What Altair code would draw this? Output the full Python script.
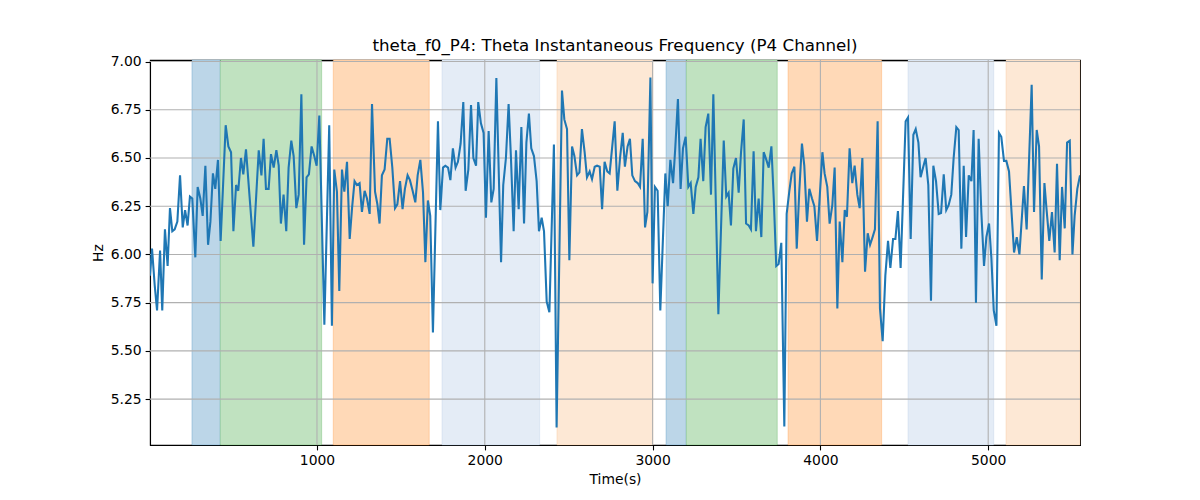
import altair as alt
import pandas as pd

# ---- data ----
times = [
    5, 17, 33, 47, 65, 78, 94, 110, 124, 138, 152, 168, 184, 200, 214, 229, 243, 257, 275, 289,
    305, 319, 335, 351, 365, 380, 394, 410, 426, 456, 472, 488, 502, 518, 531, 547, 561, 577, 621, 653,
    669, 682, 696, 712, 726, 742, 758, 772, 785, 801, 817, 831, 847, 861, 877, 891, 907, 923, 938, 952,
    968, 984, 998, 1014, 1044, 1073, 1089, 1103, 1119, 1133, 1149, 1163, 1179, 1195, 1209, 1224, 1238, 1254, 1268, 1284,
    1298, 1314, 1328, 1346, 1360, 1373, 1387, 1403, 1419, 1433, 1449, 1465, 1479, 1495, 1510, 1524, 1540, 1554, 1570, 1586,
    1600, 1616, 1632, 1646, 1661, 1675, 1691, 1721, 1735, 1751, 1765, 1781, 1795, 1810, 1826, 1840, 1856, 1872, 1886, 1902,
    1918, 1932, 1948, 1961, 1977, 1993, 2007, 2023, 2039, 2053, 2069, 2097, 2110, 2126, 2142, 2156, 2172, 2186, 2202, 2218,
    2234, 2248, 2263, 2277, 2293, 2309, 2323, 2339, 2353, 2369, 2385, 2412, 2428, 2460, 2474, 2490, 2504, 2520, 2534, 2550,
    2564, 2579, 2595, 2609, 2625, 2639, 2655, 2669, 2685, 2699, 2714, 2730, 2744, 2774, 2790, 2806, 2822, 2835, 2851, 2865,
    2879, 2895, 2911, 2925, 2941, 2955, 2969, 2987, 3000, 3014, 3030, 3046, 3076, 3090, 3106, 3122, 3135, 3151, 3167, 3181,
    3197, 3213, 3227, 3243, 3257, 3273, 3286, 3302, 3316, 3332, 3348, 3362, 3392, 3424, 3439, 3453, 3467, 3481, 3497, 3513,
    3527, 3543, 3557, 3573, 3586, 3602, 3616, 3632, 3648, 3662, 3678, 3692, 3708, 3722, 3737, 3751, 3767, 3785, 3799, 3815,
    3829, 3845, 3859, 3874, 3890, 3904, 3920, 3934, 3950, 3964, 3980, 4012, 4025, 4041, 4055, 4071, 4085, 4101, 4115, 4131,
    4145, 4158, 4174, 4190, 4204, 4220, 4234, 4250, 4266, 4282, 4296, 4311, 4325, 4341, 4355, 4371, 4387, 4403, 4417, 4433,
    4447, 4462, 4478, 4508, 4522, 4538, 4554, 4568, 4584, 4597, 4613, 4627, 4643, 4659, 4673, 4689, 4705, 4719, 4735, 4750,
    4764, 4780, 4794, 4810, 4824, 4840, 4854, 4868, 4884, 4900, 4913, 4927, 4943, 4959, 4975, 4989, 5005, 5019, 5033, 5049,
    5064, 5078, 5094, 5108, 5124, 5154, 5170, 5186, 5213, 5229, 5259, 5273, 5289, 5303, 5319, 5335, 5348, 5364, 5380, 5396,
    5410, 5426, 5440, 5456, 5470, 5486, 5502, 5515, 5531, 5547,
]
freqs = [
    5.89, 6.03, 5.84, 5.71, 6.02, 5.71, 6.13, 5.94, 6.24, 6.12, 6.13, 6.17, 6.41, 6.14, 6.23, 6.15, 6.30, 6.29, 5.985, 6.35,
    6.29, 6.20, 6.46, 6.05, 6.17, 6.42, 6.34, 6.49, 6.07, 6.67, 6.56, 6.53, 6.12, 6.36, 6.33, 6.50, 6.415, 6.545, 6.04, 6.54,
    6.41, 6.60, 6.34, 6.34, 6.52, 6.45, 6.54, 6.46, 6.16, 6.31, 6.12, 6.45, 6.59, 6.51, 6.24, 6.31, 6.83, 6.05, 6.40, 6.415,
    6.56, 6.51, 6.46, 6.72, 5.635, 6.67, 5.63, 6.44, 6.325, 5.81, 6.44, 6.325, 6.48, 6.08, 6.24, 6.38, 6.36, 6.37, 6.22, 6.33,
    6.29, 6.21, 6.78, 6.325, 6.26, 6.16, 6.41, 6.44, 6.60, 6.60, 6.45, 6.24, 6.26, 6.38, 6.235, 6.34, 6.41, 6.385, 6.33, 6.27,
    6.41, 6.49, 6.32, 5.96, 6.28, 6.20, 5.595, 6.69, 6.23, 6.45, 6.46, 6.45, 6.385, 6.55, 6.45, 6.48, 6.575, 6.79, 6.33, 6.44,
    6.775, 6.50, 6.46, 6.79, 6.68, 6.63, 6.19, 6.64, 6.27, 6.34, 6.915, 5.96, 6.36, 6.50, 6.78, 6.50, 6.12, 6.54, 6.235, 6.66,
    6.16, 6.58, 6.73, 6.55, 6.51, 6.38, 6.12, 6.19, 6.12, 5.755, 5.70, 6.57, 5.103, 6.85, 6.70, 6.65, 5.97, 6.56, 6.51, 6.41,
    6.425, 6.65, 6.53, 6.40, 6.43, 6.39, 6.455, 6.46, 6.455, 6.235, 6.48, 6.43, 6.42, 6.69, 6.33, 6.50, 6.63, 6.455, 6.56, 6.60,
    6.41, 6.38, 6.37, 6.35, 6.60, 6.14, 6.22, 6.917, 5.85, 6.35, 6.33, 5.71, 6.42, 6.25, 6.49, 6.37, 6.55, 6.805, 6.34, 6.55,
    6.61, 6.35, 6.37, 6.21, 6.35, 6.40, 6.60, 6.38, 6.66, 6.73, 6.31, 6.83, 5.69, 6.59, 6.30, 6.32, 6.15, 6.445, 6.50, 6.32,
    6.53, 6.70, 6.16, 6.15, 6.13, 6.535, 6.12, 6.29, 6.09, 6.53, 6.49, 6.45, 6.56, 6.29, 5.94, 5.95, 6.06, 5.108, 6.21, 6.33,
    6.42, 6.455, 6.03, 6.325, 6.575, 6.46, 6.17, 6.34, 6.29, 6.25, 6.07, 6.53, 6.42, 6.35, 6.16, 6.255, 6.45, 5.72, 6.17, 5.96,
    6.23, 6.195, 6.55, 6.37, 6.46, 6.31, 6.24, 6.50, 5.91, 6.11, 6.05, 6.09, 6.13, 6.69, 5.72, 5.55, 5.89, 6.07, 5.93, 6.08,
    6.08, 6.225, 5.93, 6.69, 6.71, 6.08, 6.62, 6.65, 6.58, 6.40, 6.455, 6.50, 6.36, 5.76, 6.46, 6.38, 6.21, 6.215, 6.415, 6.23,
    6.255, 6.31, 6.50, 6.66, 6.645, 6.03, 6.46, 6.09, 6.41, 6.38, 6.645, 5.75, 6.60, 6.22, 5.94, 6.09, 6.16, 5.98, 5.71, 5.63,
    6.63, 6.61, 6.485, 6.485, 6.43, 6.01, 6.09, 6.00, 6.355, 6.13, 6.88, 6.22, 6.645, 6.56, 5.87, 6.37, 6.23, 6.07, 6.22, 6.01,
    6.47, 5.97, 6.35, 6.135, 6.58, 6.59, 6.00, 6.20, 6.34, 6.41,
]

span_start = [255, 424, 1097, 1745, 2430, 3080, 3201, 3807, 4522, 5106]
span_end = [424, 1028, 1669, 2327, 3002, 3201, 3743, 4365, 5033, 5547]
span_kind = ["blue", "green", "orange", "lightblue", "lightorange",
             "blue", "green", "orange", "lightblue", "lightorange"]

x_ticks = [1000, 2000, 3000, 4000, 5000]
y_ticks = [5.25, 5.5, 5.75, 6.0, 6.25, 6.5, 6.75, 7.0]

x_domain = [5, 5547]
y_domain = [5.012, 7.008]

# ---- tables ----
line_df = pd.DataFrame({"t": times, "f": freqs})
span_df = pd.DataFrame({"start": span_start, "end": span_end, "kind": span_kind})
xg_df = pd.DataFrame({"v": x_ticks})
yg_df = pd.DataFrame({"v": y_ticks})

kinds = ["blue", "green", "orange", "lightblue", "lightorange"]
fills = ["#bcd6e8", "#c0e2c0", "#ffd9b7", "#e4ecf6", "#fde8d5"]
strokes = ["#1f77b4", "#2ca02c", "#ff7f0e", "#a5c0e1", "#f8b273"]

FONT = "DejaVu Sans"

xscale = alt.Scale(domain=x_domain, nice=False, zero=False)
yscale = alt.Scale(domain=y_domain, nice=False, zero=False)

spans = alt.Chart(span_df).mark_rect(strokeWidth=1, strokeOpacity=0.25).encode(
    x=alt.X("start:Q", scale=xscale, title="Time(s)",
            axis=alt.Axis(values=x_ticks, format="d", grid=False)),
    x2="end:Q",
    fill=alt.Fill("kind:N", scale=alt.Scale(domain=kinds, range=fills), legend=None),
    stroke=alt.Stroke("kind:N", scale=alt.Scale(domain=kinds, range=strokes), legend=None),
)

xgrid = alt.Chart(xg_df).mark_rule(color="#b0b0b0", strokeWidth=1.1).encode(
    x=alt.X("v:Q", scale=xscale)
)
ygrid = alt.Chart(yg_df).mark_rule(color="#b0b0b0", strokeWidth=1.1).encode(
    y=alt.Y("v:Q", scale=yscale)
)

line = alt.Chart(line_df).mark_line(color="#1f77b4", strokeWidth=2.08, clip=True).encode(
    x=alt.X("t:Q", scale=xscale),
    y=alt.Y("f:Q", scale=yscale, title="Hz",
            axis=alt.Axis(values=y_ticks, format=".2f", grid=False)),
)

chart = alt.layer(spans, xgrid, ygrid, line).properties(
    width=930,
    height=385,
    title=alt.TitleParams(
        "theta_f0_P4: Theta Instantaneous Frequency (P4 Channel)",
        font=FONT, fontSize=16.7, fontWeight="normal", color="black",
        anchor="middle", offset=0,
    ),
    autosize=alt.AutoSizeParams(type="none"),
    padding={"left": 142, "top": 52, "right": 112, "bottom": 47},
).configure_view(
    stroke="black", strokeWidth=1.1
).configure_axis(
    labelFont=FONT, titleFont=FONT, labelFontSize=13.9, titleFontSize=13.9,
    titleFontWeight="normal", labelColor="black", titleColor="black",
    domainColor="black", domainWidth=1.1, tickColor="black", tickWidth=1.1,
    tickSize=4.9, labelPadding=4, titlePadding=5,
)

chart.save("out.html", embed_options={"renderer": "svg", "actions": False})
